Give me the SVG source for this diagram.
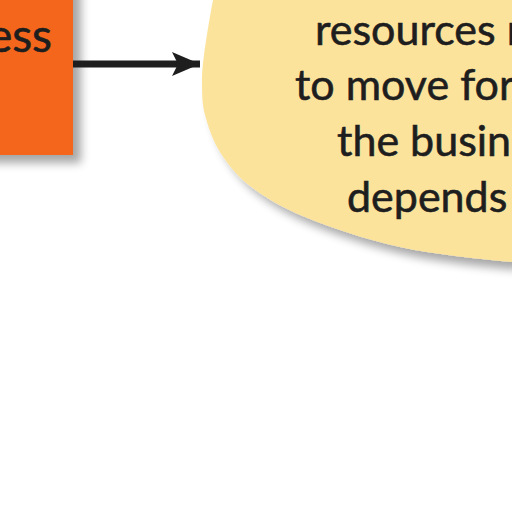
<svg xmlns="http://www.w3.org/2000/svg" width="512" height="512" viewBox="0 0 512 512">
  <style>
    .lbl { font-family: Lato, "Open Sans", "Liberation Sans", sans-serif; fill: #1e1e1e; stroke: #1e1e1e; stroke-width: 0.6; }
    .big { font-size: 46px; }
    .ell { font-size: 43px; }
  </style>
  <defs>
    <filter id="shadow" x="-20%" y="-20%" width="150%" height="150%">
      <feGaussianBlur in="SourceAlpha" stdDeviation="5"/>
      <feOffset dx="8" dy="8" result="b"/>
      <feComponentTransfer><feFuncA type="linear" slope="0.35"/></feComponentTransfer>
      <feMerge><feMergeNode/><feMergeNode in="SourceGraphic"/></feMerge>
    </filter>
    <marker id="arrow" viewBox="0 0 28 24" refX="28" refY="12" markerWidth="28" markerHeight="24" markerUnits="userSpaceOnUse" orient="auto">
      <path d="M0,0 L28,12 L0,24 L6,12 Z" fill="#1e1e1e"/>
    </marker>
  </defs>
  <rect width="512" height="512" fill="#ffffff"/>
  <g id="node-business">
    <rect x="-200" y="-100" width="273" height="255" fill="#F4661F" filter="url(#shadow)"/>
    <text class="lbl big" x="52" y="52" text-anchor="end">ess</text>
  </g>
  <g id="node-resources">
    <path d="M700,270 L620,268 L512,262 C475.3,258.5 434.5,254.5 400,247 C365.5,239.5 330,227.2 305,217 C280,206.8 264.2,196.8 250,186 C235.8,175.2 227.5,163.8 220,152 C212.5,140.2 208,126.2 205,115 C202,103.8 202.2,95 202,85 C201.8,75 202.2,69.2 204,55 C205.8,40.8 210,15.8 213,0 L222,-40 L700,-40 Z" fill="#FCE39C" filter="url(#shadow)"/>
    <text class="lbl ell" x="315" y="45">resources n</text>
    <text class="lbl ell" x="295" y="100">to move for</text>
    <text class="lbl ell" x="337" y="156">the busin</text>
    <text class="lbl ell" x="347" y="212">depends</text>
  </g>
  <g id="connectors">
    <line x1="73" y1="64" x2="200" y2="64" stroke="#1e1e1e" stroke-width="7" marker-end="url(#arrow)"/>
  </g>
</svg>
